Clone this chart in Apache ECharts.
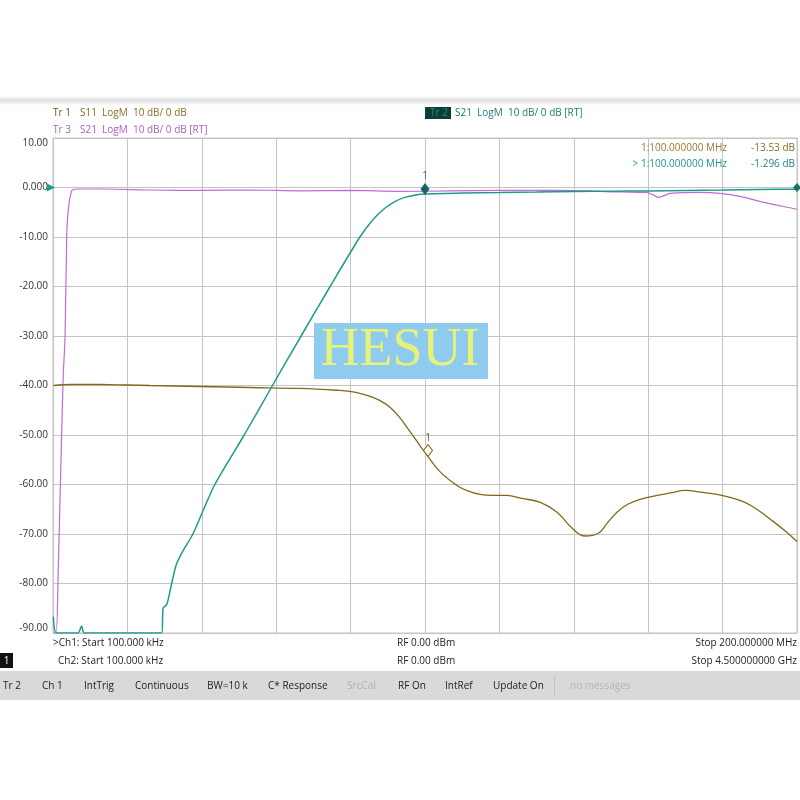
<!DOCTYPE html>
<html><head><meta charset="utf-8">
<script src="https://cdn.jsdelivr.net/npm/echarts@6/dist/echarts.min.js"></script>
<style>html,body{margin:0;padding:0;background:#fff}#c{width:800px;height:800px}</style>
</head><body><div id="c"></div>
<script>
// Ch1 frequency axis (MHz) – Tr1 S11 (displayed on active-trace scale) and Tr2 S21
const s11Freq = [0.1, 5, 12.6, 20, 26.1, 39.5, 53, 66.4, 77.1, 79.8, 83, 86, 88.5, 90.6, 93, 95.2, 98.7, 100, 104, 108.6, 111.5, 114.8, 118, 122, 126, 131, 135.5, 139.8, 143, 146.5, 149, 151.6, 154.5, 157.8, 162.4, 166, 169.9, 174.7, 178.5, 182, 186, 189.2, 193.5, 197, 200];
const s11Db   = [-40.0, -39.8, -39.8, -39.9, -40.0, -40.2, -40.4, -40.6, -41.0, -41.2, -41.7, -42.4, -43.3, -44.4, -46.3, -48.5, -52.2, -53.53, -57.4, -60.2, -61.3, -62.0, -62.2, -62.2, -62.8, -63.6, -65.6, -69.0, -70.4, -69.9, -67.8, -65.6, -64.0, -63.0, -62.2, -61.7, -61.2, -61.6, -62.0, -62.6, -63.6, -65.0, -67.4, -69.5, -71.5];

const s21aFreq = [0.1, 1.0, 6.7, 7.7, 8.4, 29.2, 29.6, 30.6, 31.9, 33.0, 34.5, 37.6, 40.5, 43.5, 51.4, 59.0, 66.7, 74.5, 82.5, 86.0, 89.2, 92.0, 94.6, 97.5, 100, 110, 120, 130, 140, 150, 160, 170, 180, 190, 200];
const s21aDb   = [-86.7, -90, -90, -88.6, -90, -90, -85.0, -84.2, -80.0, -76.5, -74.0, -70.0, -65.0, -60.0, -50.0, -40.0, -30.0, -20.0, -10.0, -6.5, -4.2, -2.8, -2.0, -1.5, -1.296, -1.1, -1.0, -0.9, -0.8, -0.75, -0.7, -0.6, -0.5, -0.4, -0.35];

// Ch2 frequency axis (MHz, 100 kHz – 4.5 GHz) – Tr3 S21
const s21bFreq = [0.1, 18, 32, 42, 53, 62, 73, 83, 93, 113, 143, 300, 600, 900, 1200, 1500, 1800, 2100, 2400, 2700, 3070, 3430, 3590, 3630, 3660, 3700, 3735, 3910, 4035, 4155, 4275, 4370, 4500];
const s21bDb   = [-90, -90, -77, -63.6, -48.9, -38, -30, -9.8, -4.4, -0.7, -0.3, -0.3, -0.5, -0.6, -0.5, -0.7, -0.6, -0.8, -0.7, -0.6, -0.6, -0.9, -1.0, -1.5, -2.0, -1.6, -1.2, -1.0, -1.2, -1.8, -2.8, -3.5, -4.4];

const yTicks = [10, 0, -10, -20, -30, -40, -50, -60, -70, -80, -90];
const markerFreq = 100;
const markerS11Display = -53.53;
const markerS21 = -1.296;

const cOlive = '#7f6a1c', cTeal = '#1f9a8c', cPurple = '#c26ad6';
const F = '"Open Sans", "DejaVu Sans", sans-serif';

const zip = (a, b) => a.map((v, i) => [v, b[i]]);
const chart = echarts.init(document.getElementById('c'));

const txt = (x, y, text, color, opts) => Object.assign({
  type: 'text', x: x, y: y, z: 10,
  style: Object.assign({ text: text, fill: color, font: '10px ' + F, textVerticalAlign: 'middle' }, (opts || {}))
});

const statusItems = [
  ['Tr 2', 3, '#222'], ['Ch 1', 42, '#222'], ['IntTrig', 84, '#222'], ['Continuous', 135, '#222'],
  ['BW=10 k', 207, '#222'], ['C* Response', 268, '#222'], ['SrcCal', 347, '#b0b0b0'],
  ['RF On', 398, '#222'], ['IntRef', 445, '#222'], ['Update On', 493, '#222'], ['no messages', 570, '#b4b4b4']
];

chart.setOption({
  backgroundColor: '#ffffff',
  animation: false,
  textStyle: { fontFamily: F },
  grid: { left: 53, right: 3, top: 138, bottom: 167, show: true, borderColor: '#c4c4c4', borderWidth: 1 },
  xAxis: [
    { type: 'value', min: 0, max: 200, interval: 20,
      axisLine: { show: false }, axisTick: { show: false }, axisLabel: { show: false },
      splitLine: { show: true, lineStyle: { color: '#c4c4c4', width: 1 } } },
    { type: 'value', min: 0, max: 4500, show: false, splitLine: { show: false } }
  ],
  yAxis: [{
    type: 'value', min: -90, max: 10, interval: 10,
    axisLine: { show: false }, axisTick: { show: false },
    splitLine: { show: true, lineStyle: { color: '#c4c4c4', width: 1 } },
    axisLabel: {
      color: '#333', fontSize: 10, fontFamily: F, margin: 5,
      verticalAlignMinLabel: 'bottom', verticalAlignMaxLabel: 'top',
      formatter: v => (v === 0 ? '0.000' : v.toFixed(2))
    }
  }],
  series: [
    { name: 'Tr3 S21', type: 'line', xAxisIndex: 1, data: zip(s21bFreq, s21bDb),
      showSymbol: false, smooth: 0.3, lineStyle: { color: cPurple, width: 1.2 }, z: 2 },
    { name: 'Tr1 S11', type: 'line', xAxisIndex: 0, data: zip(s11Freq, s11Db),
      showSymbol: false, smooth: 0.4, lineStyle: { color: cOlive, width: 1.3 }, z: 3,
      markPoint: { symbol: 'diamond', symbolSize: [9, 12], symbolOffset: [3, -2],
        itemStyle: { color: '#ffffff', borderColor: cOlive, borderWidth: 1 },
        label: { show: true, position: 'top', distance: 1, formatter: '1', color: '#555', fontSize: 10 },
        data: [{ coord: [markerFreq, markerS11Display] }] } },
    { name: 'Tr2 S21', type: 'line', xAxisIndex: 0, data: zip(s21aFreq, s21aDb),
      showSymbol: false, smooth: 0.25, lineStyle: { color: cTeal, width: 1.5 }, z: 4,
      markPoint: { 
        data: [
          { coord: [markerFreq, markerS21], symbol: 'diamond', symbolSize: [9, 12], symbolOffset: [0, -5],
            itemStyle: { color: '#14665e' },
            label: { show: true, position: 'top', distance: 2, formatter: '1', color: '#555', fontSize: 10 } },
          { coord: [0, 0], symbol: 'triangle', symbolSize: 8, symbolRotate: -90, symbolOffset: [-2, 0],
            itemStyle: { color: cTeal }, label: { show: false } },
          { coord: [200, 0], symbol: 'diamond', symbolSize: [8, 9], itemStyle: { color: '#1b6f66' }, label: { show: false } }
        ] } }
  ],
  graphic: [
    { type: 'rect', shape: { x: 0, y: 96, width: 800, height: 9 }, z: 0,
      style: { fill: new echarts.graphic.LinearGradient(0, 0, 0, 1, [{ offset: 0, color: '#ffffff' }, { offset: 0.5, color: '#dedede' }, { offset: 1, color: '#ffffff' }]) } },
    txt(53, 113, 'Tr 1', '#6a5516'), txt(80, 113, 'S11  LogM  10 dB/ 0 dB', '#8a6d1e'),
    txt(53, 130, 'Tr 3', '#b05cc4'), txt(80, 130, 'S21  LogM  10 dB/ 0 dB [RT]', '#b05cc4'),
    { type: 'rect', shape: { x: 425, y: 107, width: 26, height: 12 }, z: 9, style: { fill: '#0e3e3a' } },
    txt(430, 113, 'Tr 2', '#1f8a7e'), txt(455, 113, 'S21  LogM  10 dB/ 0 dB [RT]', '#1a7e74'),
    txt(727, 148, '1:100.000000 MHz', '#9a7a2e', { textAlign: 'right' }),
    txt(795, 148, '-13.53 dB', '#8a6d1e', { textAlign: 'right' }),
    txt(727, 164, '> 1:100.000000 MHz', '#1f948a', { textAlign: 'right' }),
    txt(795, 164, '-1.296 dB', '#1a8a80', { textAlign: 'right' }),
    { type: 'rect', shape: { x: 314, y: 323, width: 174, height: 56 }, z: 20, style: { fill: '#8fcbef' } },
    { type: 'text', x: 400, y: 351, z: 21, style: { text: 'HESUI', fill: '#e6f27a', font: '54px "Liberation Serif", "DejaVu Serif", serif', textAlign: 'center', textVerticalAlign: 'middle' } },
    txt(53, 643, '>Ch1: Start 100.000 kHz', '#222'),
    txt(58, 661, 'Ch2: Start 100.000 kHz', '#222'),
    txt(397, 643, 'RF 0.00 dBm', '#222'), txt(397, 661, 'RF 0.00 dBm', '#222'),
    txt(797, 643, 'Stop 200.000000 MHz', '#222', { textAlign: 'right' }),
    txt(797, 661, 'Stop 4.500000000 GHz', '#222', { textAlign: 'right' }),
    { type: 'rect', shape: { x: 0, y: 653, width: 13, height: 15 }, z: 9, style: { fill: '#111' } },
    txt(6.5, 661, '1', '#fff', { textAlign: 'center' }),
    { type: 'rect', shape: { x: 0, y: 671, width: 800, height: 29 }, z: 8, style: { fill: '#d9d9d9' } },
    { type: 'rect', shape: { x: 554, y: 676, width: 1, height: 20 }, z: 9, style: { fill: '#c4c4c4' } }
  ].concat(statusItems.map(s => txt(s[1], 686, s[0], s[2], { font: '500 10px ' + F })))
});
</script></body></html>
